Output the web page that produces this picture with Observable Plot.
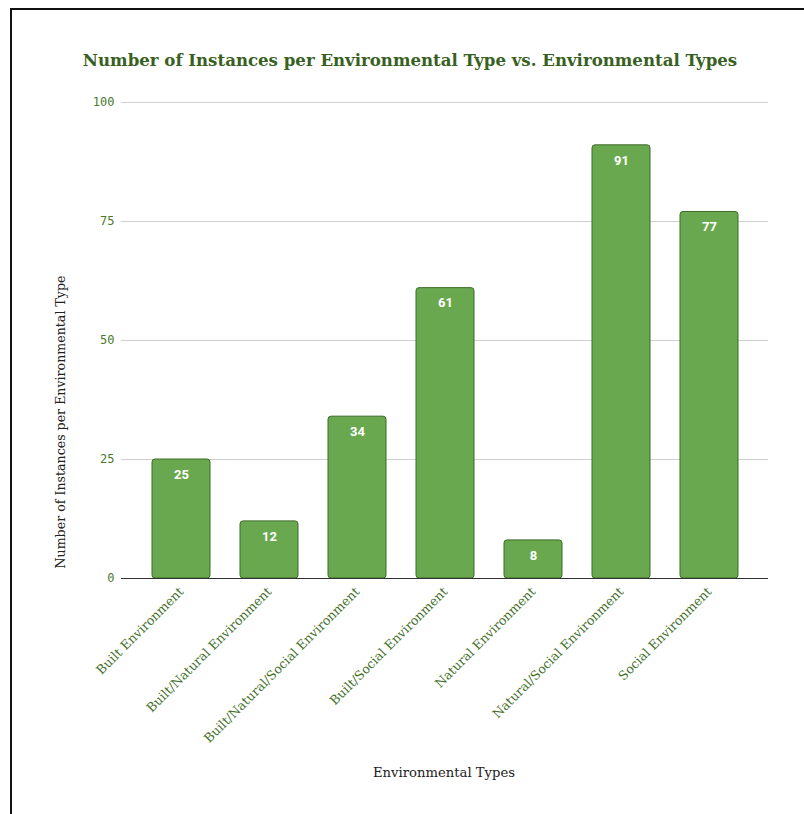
<!DOCTYPE html>
<html>
<head>
<meta charset="utf-8">
<script src="https://cdn.jsdelivr.net/npm/d3@7"></script>
<script src="https://cdn.jsdelivr.net/npm/@observablehq/plot@0.6"></script>
<style>
  html, body { margin: 0; padding: 0; background: #fff; overflow: hidden; width: 804px; height: 814px; }
  #page { position: relative; width: 804px; height: 814px; overflow: hidden; }
  #frame { position: absolute; left: 10px; top: 8px; width: 900px; height: 900px; border: 2px solid #111; box-sizing: border-box; }
  #chart { position: absolute; left: 0; top: 0; }
  #title { position: absolute; left: 0; width: 820px; top: 50px; text-align: center;
           font-family: "DejaVu Serif", serif; font-weight: bold; font-size: 16.6px; color: #38601e; }
  #ylabel { position: absolute; left: 60px; top: 422px; transform: translate(-50%, -50%) rotate(-90deg);
            white-space: nowrap; font-family: "DejaVu Serif", serif; font-size: 12.6px; color: #222; }
  #xlabel { position: absolute; left: 444px; top: 765px; transform: translateX(-50%);
            white-space: nowrap; font-family: "DejaVu Serif", serif; font-size: 13.2px; color: #222; }
</style>
</head>
<body>
<div id="page">
  <div id="frame"></div>
  <div id="chart"></div>
  <div id="title">Number of Instances per Environmental Type vs. Environmental Types</div>
  <div id="ylabel">Number of Instances per Environmental Type</div>
  <div id="xlabel">Environmental Types</div>
</div>
<script>
// Environmental categories and their instance counts
const categories = [
  "Built Environment",
  "Built/Natural Environment",
  "Built/Natural/Social Environment",
  "Built/Social Environment",
  "Natural Environment",
  "Natural/Social Environment",
  "Social Environment"
];
const counts = [25, 12, 34, 61, 8, 91, 77];
const yTicks = [0, 25, 50, 75, 100];

const data = categories.map((c, i) => ({category: c, count: counts[i]}));

const chart = Plot.plot({
  width: 804,
  height: 814,
  marginTop: 102,
  marginBottom: 236,
  marginLeft: 137,
  marginRight: 51,
  style: {background: "transparent", overflow: "visible"},
  x: {domain: categories, paddingInner: 0.34, paddingOuter: 0.17, label: null},
  y: {domain: [0, 100], label: null},
  marks: [
    Plot.gridY(yTicks, {stroke: "#cfcfcf", strokeOpacity: 1, strokeWidth: 1, insetLeft: -16, insetRight: -15}),
    Plot.axisY(yTicks, {
      tickSize: 0, tickPadding: 23, label: null,
      fontFamily: "DejaVu Sans Mono, monospace", fontSize: 12, fill: "#4a7a2e",
      style: {letterSpacing: "1.6px"}
    }),
    Plot.axisX({
      tickSize: 0, tickPadding: 11, tickRotate: -45, label: null,
      fontFamily: "DejaVu Serif, serif", fontSize: 12.6, fill: "#46722c"
    }),
    Plot.barY(data, {
      x: "category", y: "count",
      fill: "#6aa84f", stroke: "#3c6b27", strokeWidth: 1, rx: 3
    }),
    Plot.ruleY([0], {stroke: "#333", strokeWidth: 1.2, insetLeft: -16, insetRight: -15}),
    Plot.text(data, {
      x: "category", y: "count", text: d => String(d.count),
      dy: 15, fill: "white", fontWeight: "bold", fontSize: 13,
      fontFamily: "Roboto, sans-serif"
    })
  ]
});

document.getElementById("chart").appendChild(chart);
</script>
</body>
</html>
